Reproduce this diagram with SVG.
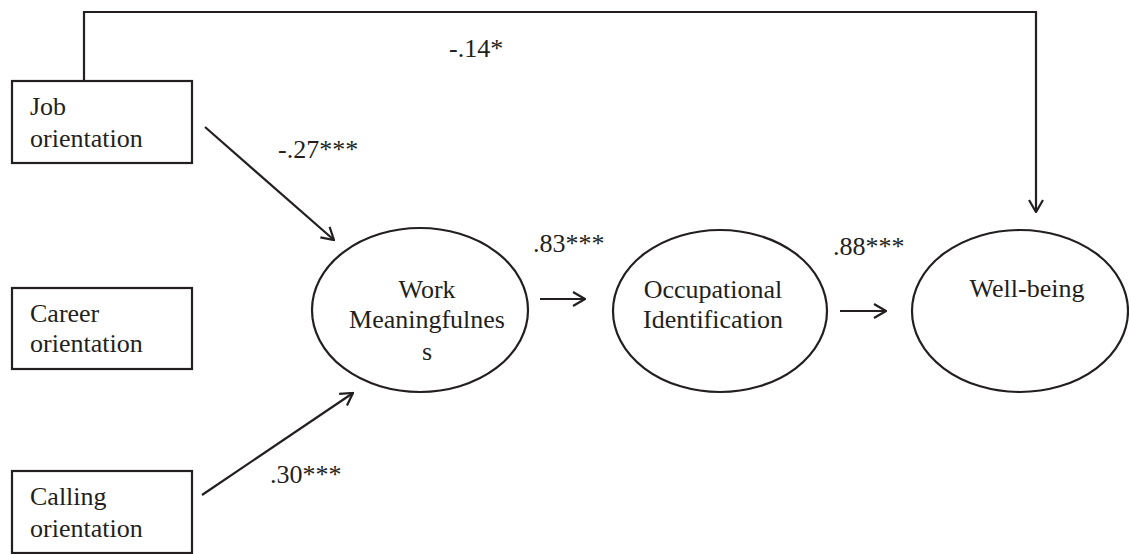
<svg xmlns="http://www.w3.org/2000/svg" width="1129" height="554" viewBox="0 0 1129 554">
<defs>
<style>
.box{fill:#fff;stroke:#231f20;stroke-width:2.2}
.ell{fill:#fff;stroke:#231f20;stroke-width:2.2}
.ln{fill:none;stroke:#231f20;stroke-width:2.2}
.t{font-family:'Liberation Serif','DejaVu Serif',serif;font-size:26px;fill:#231f20}
.c{text-anchor:middle}
</style>
<marker id="arr" viewBox="0 0 14 16" refX="13" refY="8" markerWidth="14" markerHeight="16" markerUnits="userSpaceOnUse" orient="auto">
<path d="M1,1 L13,8 L1,15" fill="none" stroke="#231f20" stroke-width="2.2"/>
</marker>
</defs>
<rect width="1129" height="554" fill="#fff"/>
<g id="connectors">
<polyline class="ln" points="84,81 84,12 1036,12 1036,212" marker-end="url(#arr)"/>
<line class="ln" x1="205" y1="127" x2="334" y2="240" marker-end="url(#arr)"/>
<line class="ln" x1="202" y1="495" x2="353" y2="393" marker-end="url(#arr)"/>
<line class="ln" x1="540" y1="299" x2="585" y2="299" marker-end="url(#arr)"/>
<line class="ln" x1="840" y1="311" x2="886" y2="311" marker-end="url(#arr)"/>
<text class="t" x="449" y="57">-.14*</text>
<text class="t" x="278" y="158">-.27***</text>
<text class="t" x="270" y="483">.30***</text>
<text class="t" x="533" y="252">.83***</text>
<text class="t" x="833" y="255">.88***</text>
</g>
<g id="job">
<rect class="box" x="12" y="81" width="180" height="82"/>
<text class="t" x="30" y="115">Job</text>
<text class="t" x="30" y="147">orientation</text>
</g>
<g id="career">
<rect class="box" x="12" y="288" width="180" height="81"/>
<text class="t" x="30" y="322">Career</text>
<text class="t" x="30" y="352">orientation</text>
</g>
<g id="calling">
<rect class="box" x="12" y="471" width="180" height="82"/>
<text class="t" x="30" y="505">Calling</text>
<text class="t" x="30" y="537">orientation</text>
</g>
<g id="work">
<ellipse class="ell" cx="420" cy="310" rx="108" ry="82"/>
<text class="t c" x="427" y="298">Work</text>
<text class="t c" x="427" y="328">Meaningfulnes</text>
<text class="t c" x="427" y="360">s</text>
</g>
<g id="occupational">
<ellipse class="ell" cx="720" cy="311" rx="107" ry="81"/>
<text class="t c" x="713" y="298">Occupational</text>
<text class="t c" x="713" y="328">Identification</text>
</g>
<g id="wellbeing">
<ellipse class="ell" cx="1020" cy="311" rx="108" ry="81"/>
<text class="t c" x="1027" y="297">Well-being</text>
</g>
</svg>
